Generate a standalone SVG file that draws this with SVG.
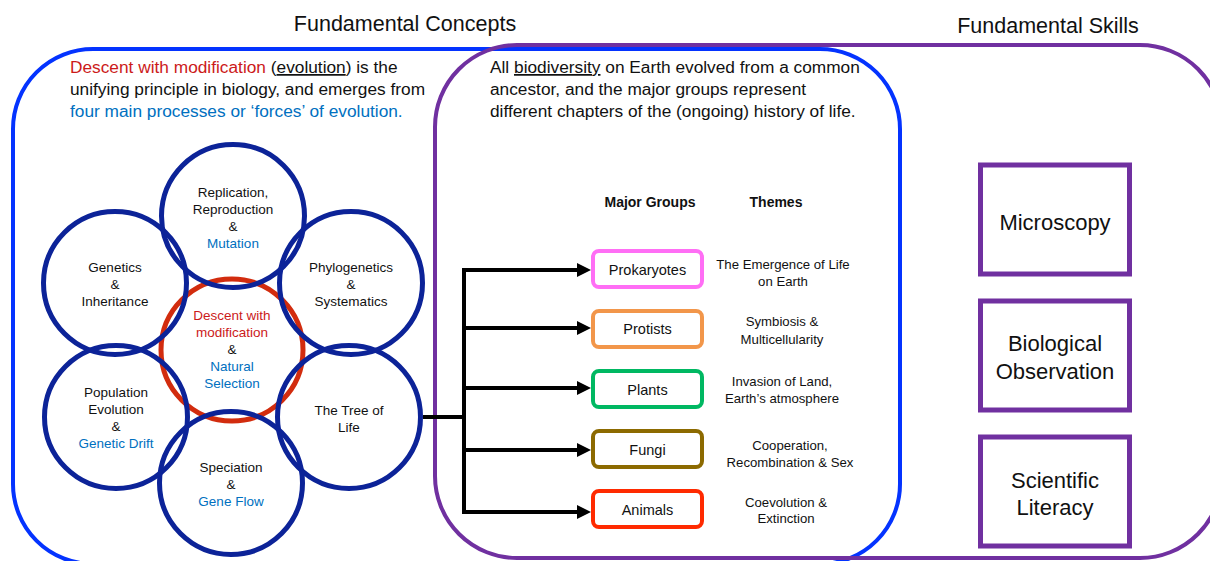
<svg xmlns="http://www.w3.org/2000/svg" width="1210" height="561" viewBox="0 0 1210 561">
<defs>
<style>
text{font-family:"Liberation Sans",Arial,sans-serif;fill:#111;}
.title{font-size:21.5px;text-anchor:middle;}
.para{font-size:17.3px;}
.red{fill:#CC1A1A;}
.blue{fill:#0070C0;}
.ul{text-decoration:underline;}
.ct{font-size:13.5px;text-anchor:middle;}
.grp{font-size:14.5px;text-anchor:middle;}
.th{font-size:13.2px;text-anchor:middle;}
.hd{font-size:14px;font-weight:bold;text-anchor:middle;}
.sk{font-size:22px;text-anchor:middle;}
.circ{fill:none;stroke:#0C2398;stroke-width:5;}
.gbox{fill:none;stroke-width:4;}
.skbox{fill:none;stroke:#7030A0;stroke-width:5;}
.conn{fill:none;stroke:#000;stroke-width:4;}
</style>
<marker id="arrow" markerUnits="userSpaceOnUse" markerWidth="14" markerHeight="14" refX="3" refY="7" orient="auto">
<path d="M0,0 L14,7 L0,14 Z" fill="#000"/>
</marker>
</defs>
<rect width="1210" height="561" fill="#fff"/>

<g id="concepts-frame">
<rect x="13" y="49" width="887" height="515" rx="80" ry="80" fill="none" stroke="#0433FF" stroke-width="4"/>
</g>
<g id="skills-frame">
<rect x="435" y="45" width="787" height="513" rx="82" ry="82" fill="none" stroke="#7030A0" stroke-width="4"/>
</g>

<g id="titles">
<text class="title" x="405" y="31">Fundamental Concepts</text>
<text class="title" x="1048" y="33">Fundamental Skills</text>
</g>

<g id="concepts-intro">
<text class="para" x="70" y="73"><tspan class="red">Descent with modification</tspan> (<tspan class="ul">evolution</tspan>) is the</text>
<text class="para" x="70" y="95">unifying principle in biology, and emerges from</text>
<text class="para blue" x="70" y="117">four main processes or ‘forces’ of evolution.</text>
</g>

<g id="biodiversity-intro">
<text class="para" x="490" y="73">All <tspan class="ul">biodiversity</tspan> on Earth evolved from a common</text>
<text class="para" x="490" y="95">ancestor, and the major groups represent</text>
<text class="para" x="490" y="117">different chapters of the (ongoing) history of life.</text>
</g>

<g id="descent">
<circle cx="232" cy="350" r="71" fill="none" stroke="#D22C0E" stroke-width="5"/>
<text class="ct red" x="232" y="320">Descent with</text>
<text class="ct red" x="232" y="337">modification</text>
<text class="ct" x="232" y="354">&amp;</text>
<text class="ct blue" x="232" y="371">Natural</text>
<text class="ct blue" x="232" y="388">Selection</text>
</g>

<g id="replication">
<circle class="circ" cx="233" cy="216" r="71.5"/>
<text class="ct" x="233" y="197">Replication,</text>
<text class="ct" x="233" y="214">Reproduction</text>
<text class="ct" x="233" y="231">&amp;</text>
<text class="ct blue" x="233" y="248">Mutation</text>
</g>

<g id="genetics">
<circle class="circ" cx="115" cy="283" r="71.5"/>
<text class="ct" x="115" y="272">Genetics</text>
<text class="ct" x="115" y="289">&amp;</text>
<text class="ct" x="115" y="306">Inheritance</text>
</g>

<g id="phylogenetics">
<circle class="circ" cx="351" cy="283" r="71.5"/>
<text class="ct" x="351" y="272">Phylogenetics</text>
<text class="ct" x="351" y="289">&amp;</text>
<text class="ct" x="351" y="306">Systematics</text>
</g>

<g id="population">
<circle class="circ" cx="116" cy="417" r="71.5"/>
<text class="ct" x="116" y="397">Population</text>
<text class="ct" x="116" y="414">Evolution</text>
<text class="ct" x="116" y="431">&amp;</text>
<text class="ct blue" x="116" y="448">Genetic Drift</text>
</g>

<g id="tree-of-life">
<circle class="circ" cx="349" cy="417" r="71.5"/>
<text class="ct" x="349" y="415">The Tree of</text>
<text class="ct" x="349" y="432">Life</text>
</g>

<g id="speciation">
<circle class="circ" cx="231" cy="483" r="71.5"/>
<text class="ct" x="231" y="472">Speciation</text>
<text class="ct" x="231" y="489">&amp;</text>
<text class="ct blue" x="231" y="506">Gene Flow</text>
</g>

<g id="headers">
<text class="hd" x="650" y="207">Major Groups</text>
<text class="hd" x="776" y="207">Themes</text>
</g>

<g id="prokaryotes">
<rect class="gbox" x="593" y="251" width="109" height="36" rx="6" stroke="#FF6EF5"/>
<text class="grp" x="647.5" y="275">Prokaryotes</text>
</g>
<g id="protists">
<rect class="gbox" x="593" y="311" width="109" height="36" rx="6" stroke="#F2964A"/>
<text class="grp" x="647.5" y="334">Protists</text>
</g>
<g id="plants">
<rect class="gbox" x="593" y="371" width="109" height="36" rx="6" stroke="#00B862"/>
<text class="grp" x="647.5" y="395">Plants</text>
</g>
<g id="fungi">
<rect class="gbox" x="593" y="431" width="109" height="36" rx="6" stroke="#8C6A00"/>
<text class="grp" x="647.5" y="455">Fungi</text>
</g>
<g id="animals">
<rect class="gbox" x="593" y="491" width="109" height="36" rx="6" stroke="#FF2A00"/>
<text class="grp" x="647.5" y="515">Animals</text>
</g>

<g id="themes">
<text class="th" x="783" y="269">The Emergence of Life</text>
<text class="th" x="783" y="286">on Earth</text>
<text class="th" x="782" y="326">Symbiosis &amp;</text>
<text class="th" x="782" y="344">Multicellularity</text>
<text class="th" x="782" y="386">Invasion of Land,</text>
<text class="th" x="782" y="403">Earth’s atmosphere</text>
<text class="th" x="790" y="450">Cooperation,</text>
<text class="th" x="790" y="467">Recombination &amp; Sex</text>
<text class="th" x="786" y="507">Coevolution &amp;</text>
<text class="th" x="786" y="523">Extinction</text>
</g>

<g id="microscopy">
<rect class="skbox" x="980.5" y="165" width="149" height="109"/>
<text class="sk" x="1055" y="230">Microscopy</text>
</g>
<g id="biological-observation">
<rect class="skbox" x="980.5" y="301" width="149" height="109"/>
<text class="sk" x="1055" y="351">Biological</text>
<text class="sk" x="1055" y="379">Observation</text>
</g>
<g id="scientific-literacy">
<rect class="skbox" x="980.5" y="437" width="149" height="109"/>
<text class="sk" x="1055" y="488">Scientific</text>
<text class="sk" x="1055" y="515">Literacy</text>
</g>

<g id="connectors">
<path class="conn" d="M423,417 H464"/>
<path class="conn" d="M464,268 V514" stroke-width="6"/>
<path class="conn" d="M464,270 H580" marker-end="url(#arrow)"/>
<path class="conn" d="M464,328 H580" marker-end="url(#arrow)"/>
<path class="conn" d="M464,388 H580" marker-end="url(#arrow)"/>
<path class="conn" d="M464,450 H580" marker-end="url(#arrow)"/>
<path class="conn" d="M464,512 H580" marker-end="url(#arrow)"/>
</g>
</svg>
